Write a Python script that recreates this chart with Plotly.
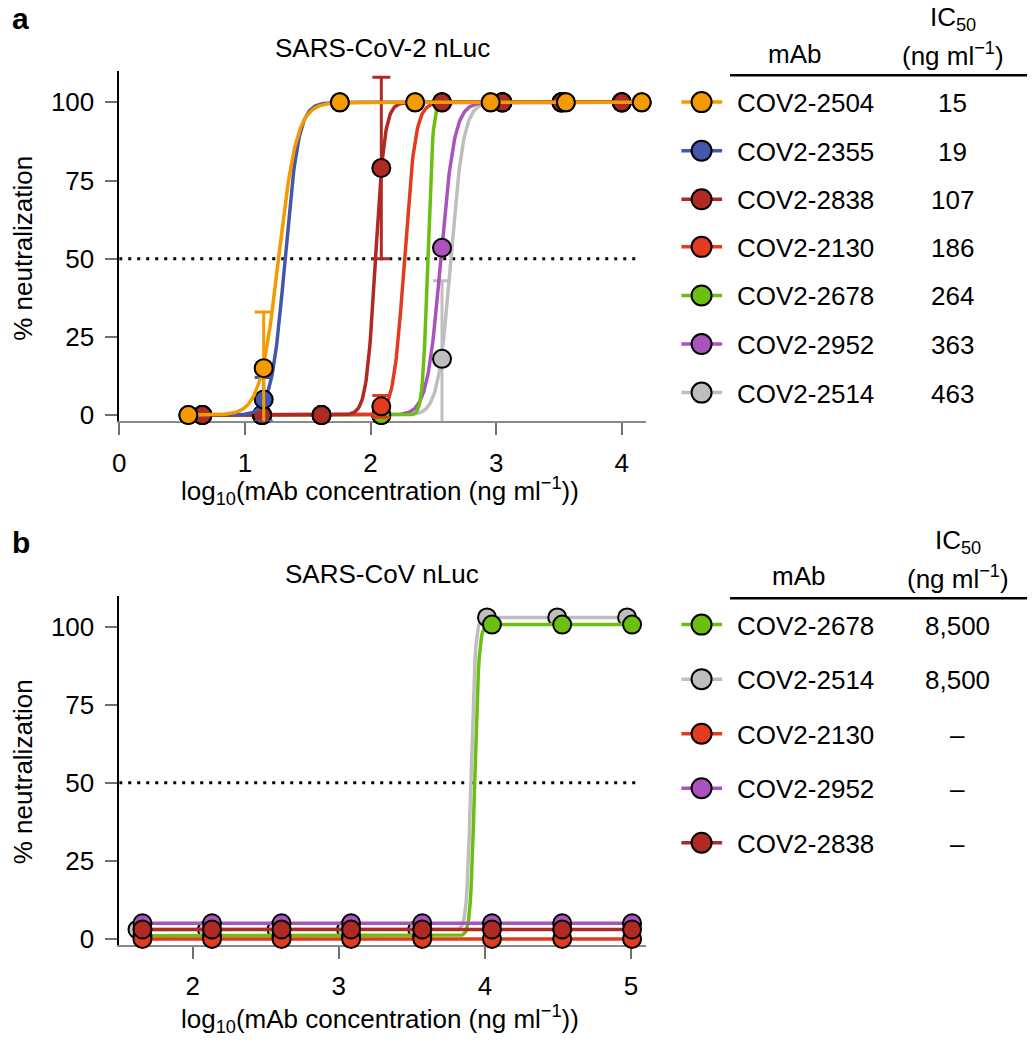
import numpy as np
import plotly.graph_objects as go

W, H = 1035, 1050
FONT = "Liberation Sans, Arial, Helvetica, sans-serif"
FS = 26

# ---------------- Panel a data (SARS-CoV-2 nLuc) ----------------
mabs_a = ["COV2-2504", "COV2-2355", "COV2-2838", "COV2-2130", "COV2-2678", "COV2-2952", "COV2-2514"]
ic50_a = ["15", "19", "107", "186", "264", "363", "463"]
colors_a = ["#F59B00", "#4357AD", "#AF2A22", "#E33B1F", "#6BBF10", "#AA52BE", "#BEBEBE"]

x_4fold = [0.55, 1.15, 1.756, 2.355, 2.956, 3.555, 4.159]
x_3fold = [0.662, 1.137, 1.61, 2.086, 2.569, 3.05, 3.52, 4.0]

y_a_2504 = [0, 15, 100, 100, 100, 100, 100]
e_a_2504 = [0, 18, 0, 0, 0, 0, 0]
y_a_2355 = [0, 5, 100, 100, 100, 100, 100]
e_a_2355 = [0, 7, 0, 0, 0, 0, 0]
y_a_2838 = [0, 0, 0, 79, 100, 100, 100, 100]
e_a_2838 = [0, 0, 0, 29, 0, 0, 0, 0]
y_a_2130 = [0, 0, 0, 2.8, 100, 100, 100, 100]
e_a_2130 = [0, 0, 0, 3.5, 0, 0, 0, 0]
y_a_2678 = [0, 0, 0, 0, 100, 100, 100, 100]
e_a_2678 = [0, 0, 0, 0, 0, 0, 0, 0]
y_a_2952 = [0, 0, 0, 0, 53.5, 100, 100, 100]
e_a_2952 = [0, 0, 0, 0, 0, 0, 0, 0]
y_a_2514 = [0, 0, 0, 0, 18, 100, 100, 100]
e_a_2514 = [0, 0, 0, 0, 25, 0, 0, 0]

x_a = [x_4fold, x_4fold, x_3fold, x_3fold, x_3fold, x_3fold, x_3fold]
y_a = [y_a_2504, y_a_2355, y_a_2838, y_a_2130, y_a_2678, y_a_2952, y_a_2514]
e_a = [e_a_2504, e_a_2355, e_a_2838, e_a_2130, e_a_2678, e_a_2952, e_a_2514]

# fitted 4PL curve parameters
logc_a = [1.268, 1.32, 2.04, 2.27, 2.455, 2.56, 2.64]
hill_a = [6, 8, 12, 10, 22, 8, 8.5]
bottom_a = [0, 0, 0, 0, 0, 0, 0]
top_a = [100, 100, 100, 100, 100, 100, 100]
draw_order_a = [6, 5, 4, 3, 2, 1, 0]

# ---------------- Panel b data (SARS-CoV nLuc) ----------------
mabs_b = ["COV2-2678", "COV2-2514", "COV2-2130", "COV2-2952", "COV2-2838"]
ic50_b = ["8,500", "8,500", "\u2013", "\u2013", "\u2013"]
colors_b = ["#6BBF10", "#BEBEBE", "#E33B1F", "#AA52BE", "#AF2A22"]

x_b_main = [1.656, 2.132, 2.608, 3.084, 3.571, 4.048, 4.529, 5.007]
x_b_2514 = [1.622, 2.098, 2.574, 3.05, 3.537, 4.014, 4.495, 4.973]

y_b_2678 = [1, 1, 1, 1, 1, 100.7, 100.7, 100.7]
y_b_2514 = [3, 3, 3, 3, 3, 103, 103, 103]
y_b_2130 = [0, 0, 0, 0, 0, 0, 0, 0]
y_b_2952 = [5, 5, 5, 5, 5, 5, 5, 5]
y_b_2838 = [3, 3, 3, 3, 3, 3, 3, 3]

x_b = [x_b_main, x_b_2514, x_b_main, x_b_main, x_b_main]
y_b = [y_b_2678, y_b_2514, y_b_2130, y_b_2952, y_b_2838]
# 4PL parameters (None = flat, no neutralization)
logc_b = [3.93, 3.905, None, None, None]
hill_b = [30, 30, None, None, None]
bottom_b = [1, 3, None, None, None]
top_b = [100.7, 103, None, None, None]
draw_order_b = [1, 0, 3, 2, 4]

xticks_a = [0, 1, 2, 3, 4]
xticks_b = [2, 3, 4, 5]
yticks = [0, 25, 50, 75, 100]


def px(x):
    return x / W


def py(y):
    return 1 - y / H


def logistic(x, bottom, top, logc, hill):
    return bottom + (top - bottom) / (1 + 10 ** ((logc - x) * hill))


fig = go.Figure()

MS = 18
MLW = 2
LW = 3.5

# Panel a traces
for i in draw_order_a:
    xs = np.array(x_a[i], dtype=float)
    ys = np.array(y_a[i], dtype=float)
    es = np.array(e_a[i], dtype=float)
    xc = np.linspace(xs.min(), xs.max(), 600)
    yc = logistic(xc, bottom_a[i], top_a[i], logc_a[i], hill_a[i])
    fig.add_trace(go.Scatter(x=xc, y=yc, mode="lines", line=dict(color=colors_a[i], width=LW),
                             xaxis="x", yaxis="y", showlegend=False, hoverinfo="skip"))
    m = es > 0
    if m.any():
        fig.add_trace(go.Scatter(x=xs[m], y=ys[m], mode="markers", marker=dict(size=1, opacity=0),
                                 error_y=dict(type="data", array=es[m], color=colors_a[i], thickness=3, width=9),
                                 xaxis="x", yaxis="y", showlegend=False, cliponaxis=True, hoverinfo="skip"))
    fig.add_trace(go.Scatter(x=xs, y=ys, mode="markers",
                             marker=dict(size=MS, color=colors_a[i], line=dict(color="black", width=MLW)),
                             xaxis="x", yaxis="y", showlegend=False, cliponaxis=False, name=mabs_a[i]))

# Panel b traces
for i in draw_order_b:
    xs = np.array(x_b[i], dtype=float)
    ys = np.array(y_b[i], dtype=float)
    if logc_b[i] is not None:
        xc = np.linspace(xs.min(), xs.max(), 600)
        yc = logistic(xc, bottom_b[i], top_b[i], logc_b[i], hill_b[i])
    else:
        xc, yc = xs, ys
    fig.add_trace(go.Scatter(x=xc, y=yc, mode="lines", line=dict(color=colors_b[i], width=LW),
                             xaxis="x2", yaxis="y2", showlegend=False, hoverinfo="skip"))
    fig.add_trace(go.Scatter(x=xs, y=ys, mode="markers",
                             marker=dict(size=MS, color=colors_b[i], line=dict(color="black", width=MLW)),
                             xaxis="x2", yaxis="y2", showlegend=False, cliponaxis=False, name=mabs_b[i]))

axis_common = dict(showgrid=False, zeroline=False, ticks="outside", ticklen=12, tickwidth=1.5,
                   tickcolor="#707070", tickfont=dict(family=FONT, size=FS, color="black"),
                   layer="below traces", fixedrange=True)

fig.update_layout(
    width=W, height=H, margin=dict(l=0, r=0, t=0, b=0),
    paper_bgcolor="white", plot_bgcolor="white",
    font=dict(family=FONT, size=FS, color="black"),
    xaxis=dict(domain=[px(113), px(643)], range=[0, 4.19], tickvals=xticks_a, anchor="y",
               showline=True, linecolor="#8a8a8a", linewidth=2, ticklabelstandoff=5, **axis_common),
    yaxis=dict(domain=[py(425), py(71.7)], range=[-2, 110], tickvals=yticks, anchor="x",
               showline=True, linecolor="black", linewidth=1.5, ticklabelstandoff=6, **axis_common),
    xaxis2=dict(domain=[px(113), px(643)], range=[1.497, 5.1], tickvals=xticks_b, anchor="y2",
                showline=True, linecolor="#8a8a8a", linewidth=2, ticklabelstandoff=5, **axis_common),
    yaxis2=dict(domain=[py(953.3), py(600.7)], range=[-2, 110], tickvals=yticks, anchor="x2",
                showline=True, linecolor="black", linewidth=1.5, ticklabelstandoff=6, **axis_common),
)

shapes = []
annotations = []

# dotted 50% lines
shapes.append(dict(type="line", xref="x", yref="y", x0=0, x1=4.15, y0=50, y1=50,
                   line=dict(color="black", width=3, dash="3px,6px"), layer="below"))
shapes.append(dict(type="line", xref="x2", yref="y2", x0=1.497, x1=5.06, y0=50, y1=50,
                   line=dict(color="black", width=3, dash="3px,6px"), layer="below"))

# panel labels, titles, axis titles
for lab, yc in (("a", 19), ("b", 547)):
    annotations.append(dict(text="<b>%s</b>" % lab, x=px(14), y=py(yc), xref="paper", yref="paper",
                            showarrow=False, xanchor="center", yanchor="middle",
                            font=dict(family=FONT, size=30, color="black")))
for t, yc in (("SARS-CoV-2 nLuc", 48), ("SARS-CoV nLuc", 579)):
    annotations.append(dict(text=t, x=px(378), y=py(yc), xref="paper", yref="paper", showarrow=False,
                            xanchor="center", yanchor="middle", font=dict(family=FONT, size=FS)))
for yc in (250, 778):
    annotations.append(dict(text="% neutralization", x=px(16), y=py(yc), xref="paper", yref="paper",
                            showarrow=False, textangle=-90, xanchor="center", yanchor="middle",
                            font=dict(family=FONT, size=FS)))
for yc in (495, 1028):
    annotations.append(dict(text="log<sub>10</sub>(mAb concentration (ng ml<sup>\u22121</sup>))",
                            x=px(376), y=py(yc), xref="paper", yref="paper", showarrow=False,
                            xanchor="center", yanchor="middle", font=dict(family=FONT, size=FS)))


def table(mabs, vals, cols, rows_y, underline_y, mab_x, val_x):
    annotations.append(dict(text="mAb", x=px(mab_x), y=py(underline_y - 22), xref="paper", yref="paper",
                            showarrow=False, xanchor="center", yanchor="middle", font=dict(family=FONT, size=FS)))
    annotations.append(dict(text="IC<sub>50</sub>", x=px(val_x), y=py(underline_y - 57), xref="paper",
                            yref="paper", showarrow=False, xanchor="center", yanchor="middle",
                            font=dict(family=FONT, size=FS)))
    annotations.append(dict(text="(ng ml<sup>\u22121</sup>)", x=px(val_x), y=py(underline_y - 21),
                            xref="paper", yref="paper", showarrow=False, xanchor="center", yanchor="middle",
                            font=dict(family=FONT, size=FS)))
    shapes.append(dict(type="line", xref="paper", yref="paper", x0=px(728), x1=px(1027),
                       y0=py(underline_y), y1=py(underline_y), line=dict(color="black", width=2.5)))
    for name, v, c, ry in zip(mabs, vals, cols, rows_y):
        shapes.append(dict(type="line", xref="paper", yref="paper", x0=px(679), x1=px(720),
                           y0=py(ry), y1=py(ry), line=dict(color=c, width=3.5)))
        shapes.append(dict(type="circle", xref="paper", yref="paper", xsizemode="pixel", ysizemode="pixel",
                           xanchor=px(699.3), yanchor=py(ry), x0=-10, x1=10, y0=-10, y1=10,
                           fillcolor=c, line=dict(color="black", width=2)))
        annotations.append(dict(text=name, x=px(733), y=py(ry + 1), xref="paper", yref="paper",
                                showarrow=False, xanchor="left", yanchor="middle",
                                font=dict(family=FONT, size=FS)))
        annotations.append(dict(text=v, x=px(val_x), y=py(ry + 1), xref="paper", yref="paper",
                                showarrow=False, xanchor="center", yanchor="middle",
                                font=dict(family=FONT, size=FS)))


table(mabs_a, ic50_a, colors_a, [103, 152, 201, 249, 298, 347, 396], 76, 793, 952)
table(mabs_b, ic50_b, colors_b, [630, 685, 740, 795, 850], 603.3, 797, 957)

fig.update_layout(shapes=shapes, annotations=annotations)
fig.write_html("out.html", config={"displayModeBar": False},
               post_script="document.body.style.margin='0px';document.body.style.overflow='hidden';")
